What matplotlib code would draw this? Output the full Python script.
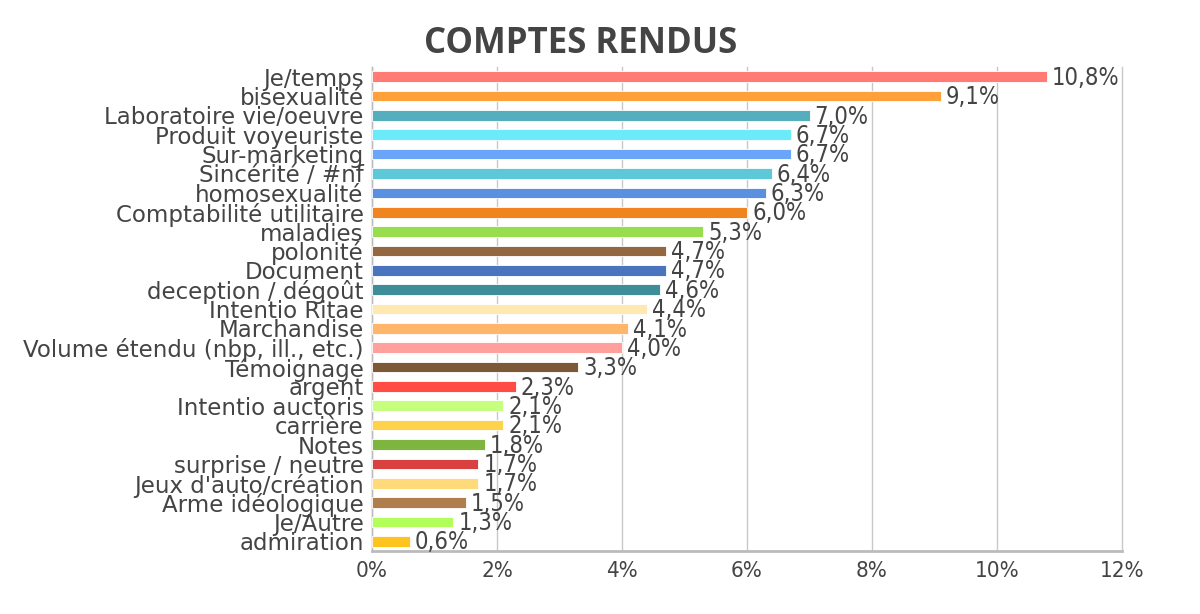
import matplotlib
matplotlib.use("Agg")
import matplotlib.pyplot as plt
from matplotlib.ticker import FuncFormatter
from matplotlib import font_manager

categories = [
    "Je/temps", "bisexualité", "Laboratoire vie/oeuvre", "Produit voyeuriste",
    "Sur-marketing", "Sincérité / #nf", "homosexualité", "Comptabilité utilitaire",
    "maladies", "polonité", "Document", "deception / dégoût", "Intentio Ritae",
    "Marchandise", "Volume étendu (nbp, ill., etc.)", "Témoignage", "argent",
    "Intentio auctoris", "carrière", "Notes", "surprise / neutre",
    "Jeux d'auto/création", "Arme idéologique", "Je/Autre", "admiration",
]
values = [10.8, 9.1, 7.0, 6.7, 6.7, 6.4, 6.3, 6.0, 5.3, 4.7, 4.7, 4.6, 4.4,
          4.1, 4.0, 3.3, 2.3, 2.1, 2.1, 1.8, 1.7, 1.7, 1.5, 1.3, 0.6]
colors = ["#FF7B74", "#FFA03A", "#55AEBD", "#6BEAFA", "#6BA5F9", "#5DC8D8",
          "#5B8FE0", "#F08520", "#97DD4E", "#936840", "#4A75BE", "#3E8E9A",
          "#FFE9B0", "#FFB66B", "#FFA09C", "#7D5837", "#FF4D45", "#C5FF7D",
          "#FFD24B", "#7DB53E", "#D94040", "#FFDA7A", "#B07D4C", "#B2FF5A",
          "#FFC31F"]
xticks = [0, 2, 4, 6, 8, 10, 12]

stretch = "normal"
for f in font_manager.fontManager.ttflist:
    if f.name == "DejaVu Sans" and "ondensed" in f.fname:
        stretch = "condensed"
        break

txt = "#444444"
fig = plt.figure(figsize=(12, 6.14), dpi=100)
ax = fig.add_axes([0.31, 0.1026, 0.625, 0.7883])

ypos = list(range(len(categories)))
ax.barh(ypos, values, height=0.55, color=colors, edgecolor="white",
        linewidth=0.6, zorder=3)
ax.set_ylim(len(categories) - 0.5, -0.5)
ax.set_xlim(0, 12)
ax.set_xticks(xticks)
ax.xaxis.set_major_formatter(FuncFormatter(lambda v, p: f"{int(v)}%"))
ax.set_yticks(ypos)
ax.set_yticklabels(categories)
ax.tick_params(axis="y", length=0, pad=6)
ax.tick_params(axis="x", length=0, pad=7)
for lab in ax.get_yticklabels():
    lab.set_fontsize(16.5)
    lab.set_color(txt)
    lab.set_family("DejaVu Sans")
for lab in ax.get_xticklabels():
    lab.set_fontsize(16)
    lab.set_color(txt)
    lab.set_family("DejaVu Sans")
    lab.set_fontstretch(stretch)

ax.grid(axis="x", color="#C8C8C8", linewidth=1.0, zorder=0)
for gl in ax.xaxis.get_gridlines():
    gl.set_clip_on(False)
ax.grid(axis="y", visible=False)
for s in ["top", "right"]:
    ax.spines[s].set_visible(False)
ax.spines["left"].set_color("#BBBBBB")
ax.spines["left"].set_linewidth(1.0)
ax.spines["bottom"].set_color("#BBBBBB")
ax.spines["bottom"].set_linewidth(2.0)

for y, v in zip(ypos, values):
    ax.text(v + 0.08, y + 0.06, f"{v:.1f}%".replace(".", ","), va="center",
            ha="left", fontsize=17, color=txt, family="DejaVu Sans",
            fontstretch=stretch, zorder=4)

fig.text(0.484, 0.929, "COMPTES RENDUS", ha="center", va="center",
         fontsize=25, fontweight="bold", color=txt, family="Open Sans")

fig.savefig("out.png", dpi=100, facecolor="white")
